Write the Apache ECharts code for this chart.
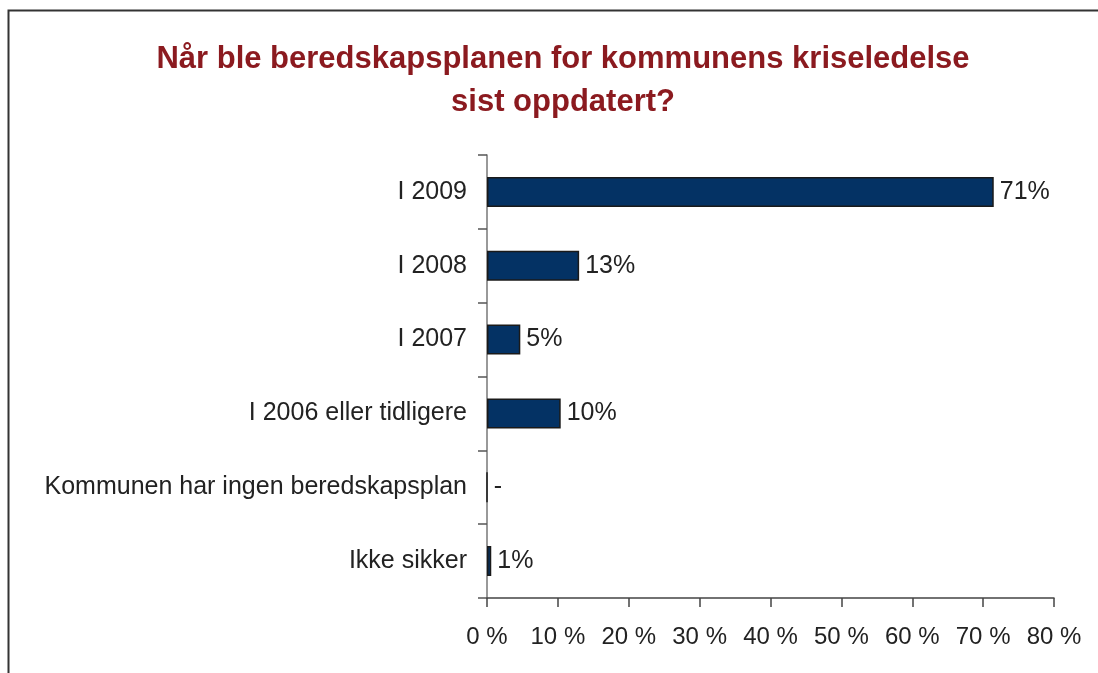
<!DOCTYPE html>
<html><head><meta charset="utf-8">
<script src="https://cdn.jsdelivr.net/npm/echarts@6/dist/echarts.min.js"></script>
<style>html,body{margin:0;padding:0;background:#fff}#c{width:1098px;height:673px}</style>
</head><body><div id="c"></div>
<script>
const categories = ["I 2009","I 2008","I 2007","I 2006 eller tidligere","Kommunen har ingen beredskapsplan","Ikke sikker"];
const values = [71.5, 13, 4.7, 10.4, 0, 0.6];
const valueLabels = ["71%","13%","5%","10%","-","1%"];
const xTicks = [0,10,20,30,40,50,60,70,80];

const chart = echarts.init(document.getElementById('c'));
chart.setOption({
  animation:false,
  backgroundColor:'#fff',
  graphic:[{type:'rect',shape:{x:8.5,y:10.5,width:1200,height:800},style:{fill:'none',stroke:'#333',lineWidth:2}}],
  title:{text:'Når ble beredskapsplanen for kommunens kriseledelse\nsist oppdatert?',left:558,textAlign:'center',top:33,
    textStyle:{fontFamily:'Liberation Sans, Arial, sans-serif',fontSize:31,fontWeight:'bold',color:'#8B1A1F',lineHeight:43}},
  grid:{left:487,right:44,top:155,bottom:75},
  xAxis:{type:'value',min:xTicks[0],max:xTicks[xTicks.length-1],interval:10,
    axisLine:{show:true,lineStyle:{color:'#444',width:1.5}},
    axisTick:{show:true,length:9,lineStyle:{color:'#444',width:1.5}},
    splitLine:{show:false},
    axisLabel:{margin:27,fontFamily:'Liberation Sans, Arial, sans-serif',fontSize:24,color:'#222',formatter:v=>v+' %'}},
  yAxis:{type:'category',data:categories,inverse:true,
    axisLine:{show:true,lineStyle:{color:'#777',width:1.5}},
    axisTick:{show:true,length:9,lineStyle:{color:'#555',width:1.5}},
    axisLabel:{margin:20,fontFamily:'Liberation Sans, Arial, sans-serif',fontSize:25,color:'#222'}},
  series:[{type:'bar',data:values,barWidth:30,
    itemStyle:{color:'#043264',borderColor:'#1a1a1a',borderWidth:1.5},
    label:{show:true,position:'right',distance:6,fontFamily:'Liberation Sans, Arial, sans-serif',fontSize:25,color:'#222',
      formatter:p=>valueLabels[p.dataIndex]}}]
});
</script></body></html>
